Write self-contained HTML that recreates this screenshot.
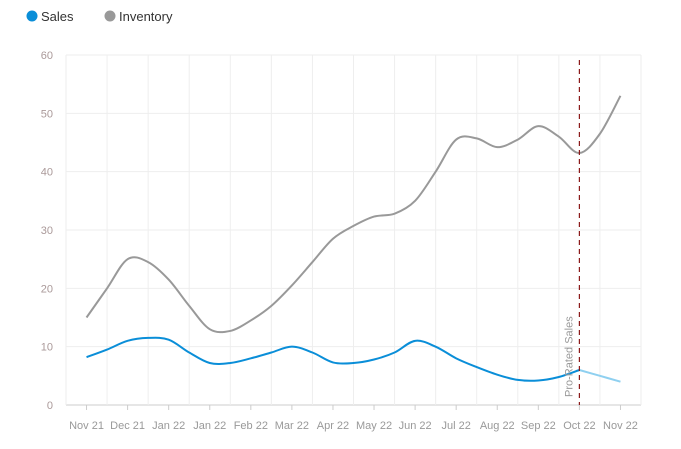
<!DOCTYPE html>
<html><head><meta charset="utf-8"><style>
body{margin:0;background:#fff;font-family:"Liberation Sans",sans-serif;}
svg text{font-family:"Liberation Sans",sans-serif;}
</style></head><body>
<svg id="chart" width="681" height="444">
  <g>
    <g><circle cx="32" cy="16" r="5.5" fill="#0a8ed8"/><text x="41" y="21" font-size="13" fill="#333">Sales</text></g>
    <g><circle cx="110" cy="16" r="5.5" fill="#999"/><text x="119" y="21" font-size="13" fill="#333">Inventory</text></g>
  </g>
  <g id="grid"></g><g id="axes"></g><g id="series"></g>
</svg>
<script>
const categories=["Nov 21","Dec 21","Jan 22","Jan 22","Feb 22","Mar 22","Apr 22","May 22","Jun 22","Jul 22","Aug 22","Sep 22","Oct 22","Nov 22"];
const yTicks=[0,10,20,30,40,50,60];
// values at half-category steps (index/2)
const inventory=[15,20,25,24.5,21.5,17,13,12.7,14.5,17,20.5,24.5,28.5,30.7,32.3,32.8,35,40,45.5,45.7,44.2,45.5,47.8,46,43.2,46.5,53];
const sales=[8.2,9.5,11,11.5,11.2,9,7.2,7.2,8,9,10,9,7.3,7.2,7.8,9,11,10,8,6.5,5.2,4.3,4.2,4.8,6,5,4];
const proRatedIndex=12;
const L=66,R=641,T=55,B=405;
const band=(R-L)/categories.length;
const xs=i=>L+band/2+i*band;
const ys=v=>B-(v/60)*(B-T);
const NS="http://www.w3.org/2000/svg";
function mk(t,p,a){const e=document.createElementNS(NS,t);for(const k in a)e.setAttribute(k,a[k]);p.appendChild(e);return e;}
const grid=document.getElementById('grid'),axes=document.getElementById('axes'),ser=document.getElementById('series');
yTicks.forEach(v=>{
  const l=mk('line',grid,{x1:L,x2:R,y1:ys(v),y2:ys(v),stroke:v===0?'#ccc':'#eee','stroke-width':1});
  
  
  const t=mk('text',axes,{x:53,y:ys(v)+4,'text-anchor':'end','font-size':11,fill:'#a99'});
  
  
  t.textContent=v;
});
for(let i=1;i<=categories.length;i++){
  const l=mk('line',grid,{x1:L+i*band,x2:L+i*band,y1:T,y2:B,stroke:'#eee'});
  
  
}
mk('line',axes,{x1:L,x2:L,y1:T,y2:B,stroke:'#eee'});
categories.forEach((c,i)=>{
  const tk=mk('line',axes,{x1:xs(i),x2:xs(i),y1:B,y2:B+5,stroke:'#ccc'});
  
  
  const t=mk('text',axes,{x:xs(i),y:429,'text-anchor':'middle','font-size':11,fill:'#999'});
  
  
  t.textContent=c;
});
function path(vals,from,to){
  const p=[];for(let i=from;i<=to;i++)p.push([xs(i/2),ys(vals[i])]);
  let d='M'+p[0][0]+','+p[0][1];
  for(let i=0;i<p.length-1;i++){
    const p0=p[Math.max(0,i-1)],p1=p[i],p2=p[i+1],p3=p[Math.min(p.length-1,i+2)];
    const c1=[p1[0]+(p2[0]-p0[0])/6,p1[1]+(p2[1]-p0[1])/6],c2=[p2[0]-(p3[0]-p1[0])/6,p2[1]-(p3[1]-p1[1])/6];
    d+=`C${c1[0]},${c1[1]} ${c2[0]},${c2[1]} ${p2[0]},${p2[1]}`;
  }
  return d;
}
const inv=mk('path',ser,{d:path(inventory,0,inventory.length-1),fill:'none',stroke:'#999','stroke-width':2});


const pi=proRatedIndex*2;
const s1=mk('path',ser,{d:path(sales,0,pi),fill:'none',stroke:'#0a8ed8','stroke-width':2});


const s2=mk('path',ser,{d:path(sales,pi,sales.length-1),fill:'none',stroke:'#8fd0f0','stroke-width':2});


const px=xs(proRatedIndex);
const dl=mk('line',ser,{x1:px,x2:px,y1:T+5,y2:B,stroke:'#8b1a1a','stroke-width':1.2,'stroke-dasharray':'5,4'});


const lt=mk('text',ser,{x:0,y:0,'font-size':11,fill:'#999',transform:`translate(${px-7},${B-8}) rotate(-90)`});


lt.textContent='Pro-Rated Sales';
</script>
</body></html>
